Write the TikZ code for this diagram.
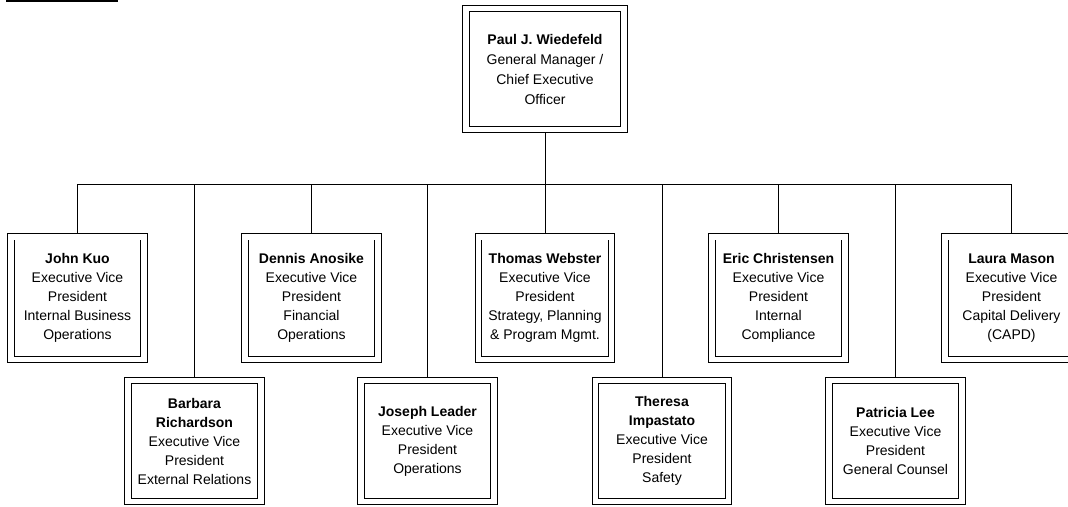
\documentclass[tikz,border=0pt]{standalone}
\usepackage{fontspec}
\setmainfont{Liberation Sans}
\begin{document}
\begin{tikzpicture}[x=1pt,y=-1pt,
  box/.style={draw=black, line width=0.8pt, double=white, double distance=5.5pt,
    minimum width=133pt, minimum height=122.5pt, inner sep=0pt, align=center,
    font=\fontsize{14}{19}\selectfont},
  lowbox/.style={box, minimum height=121pt},
  ceobox/.style={box, minimum width=158pt, minimum height=121pt, font=\fontsize{14}{20}\selectfont},
  conn/.style={draw=black, line width=0.8pt},
  topin/.style={shorten >=3.55pt},
  rule/.style={draw=black, line width=1.6pt}]
\useasboundingbox (0,0) rectangle (1068,506);
\clip (0,0) rectangle (1068,506);
% stray rule at top left
\coordinate (r1) at (6,1);
\coordinate (r2) at (118,1);
\draw[rule] (r1) -- (r2);
% CEO
\node[ceobox] (ceo) at (545,69) {\textbf{Paul J. Wiedefeld}\\General Manager /\\Chief Executive\\Officer};
% row 1
\node[box] (kuo) at (77.5,298) {\textbf{John Kuo}\\Executive Vice\\President\\Internal Business\\Operations};
\node[box] (anosike) at (311.5,298) {\textbf{Dennis Anosike}\\Executive Vice\\President\\Financial\\Operations};
\node[box] (webster) at (545,298) {\textbf{Thomas Webster}\\Executive Vice\\President\\Strategy, Planning\\\& Program Mgmt.};
\node[box] (christensen) at (778.5,298) {\textbf{Eric Christensen}\\Executive Vice\\President\\Internal\\Compliance};
\node[box] (mason) at (1011.5,298) {\textbf{Laura Mason}\\Executive Vice\\President\\Capital Delivery\\(CAPD)};
% row 2
\node[lowbox] (richardson) at (194.5,441) {\textbf{Barbara}\\\textbf{Richardson}\\Executive Vice\\President\\External Relations};
\node[lowbox] (leader) at (427.5,441) {\textbf{Joseph Leader}\\Executive Vice\\President\\Operations};
\node[lowbox] (impastato) at (662,441) {\textbf{Theresa}\\\textbf{Impastato}\\Executive Vice\\President\\Safety};
\node[lowbox] (lee) at (895.5,441) {\textbf{Patricia Lee}\\Executive Vice\\President\\General Counsel};
% bus
\coordinate (bus) at (545,184);
\draw[conn, shorten <=3.55pt] (ceo.south) -- (bus);
\draw[conn] (kuo.north |- bus) -- (mason.north |- bus);
\foreach \n in {kuo,anosike,webster,christensen,mason,richardson,leader,impastato,lee}
  \draw[conn, topin] (\n.north |- bus) -- (\n.north);
\end{tikzpicture}
\end{document}
